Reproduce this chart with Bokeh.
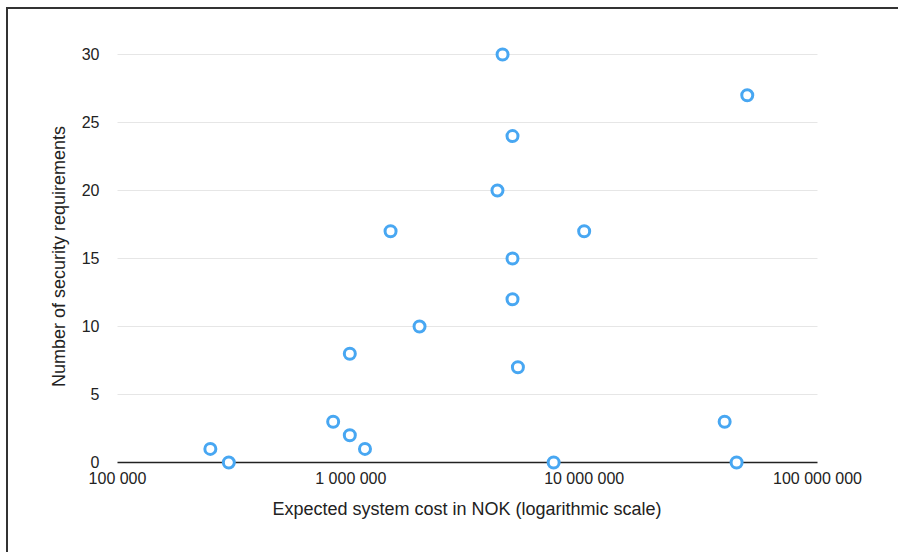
from bokeh.plotting import figure
from bokeh.models import Range1d, FixedTicker, LogAxis, LinearAxis
from bokeh.embed import file_html
from bokeh.resources import INLINE

# Data
cost_nok = [4.47e6, 5.0e7, 4.93e6, 4.25e6, 1.48e6, 1.0e7, 4.93e6, 4.93e6, 1.97e6,
            9.9e5, 5.2e6, 8.4e5, 9.9e5, 1.15e6, 2.5e5, 3.0e5, 7.4e6, 4.0e7, 4.5e7]
security_reqs = [30, 27, 24, 20, 17, 17, 15, 12, 10,
                 8, 7, 3, 2, 1, 1, 0, 0, 3, 0]

x_ticks = [100000, 1000000, 10000000, 100000000]
x_tick_labels = ["100 000", "1 000 000", "10 000 000", "100 000 000"]
y_ticks = [0, 5, 10, 15, 20, 25, 30]

x_title = "Expected system cost in NOK (logarithmic scale)"
y_title = "Number of security requirements"

FONT = "Liberation Sans"
TXT = "#222222"

p = figure(width=892, height=545, x_axis_type="log",
           x_axis_location=None, y_axis_location=None,
           x_range=Range1d(10 ** 4.79, 10 ** 8.2057), y_range=Range1d(-2.206, 32.5),
           output_backend="svg", toolbar_location=None,
           min_border_left=60, min_border_right=35,
           min_border_top=11, min_border_bottom=62)
p.margin = (7, 0, 0, 6)
p.styles = {"border-top": "2px solid #333", "border-left": "2px solid #333"}
p.outline_line_color = None
p.background_fill_color = "white"
p.border_fill_color = "white"
p.xgrid.visible = False
p.ygrid.visible = False


def style_ticks(ax):
    ax.major_tick_line_color = None
    ax.minor_tick_line_color = None
    ax.major_tick_out = 0
    ax.major_tick_in = 0
    ax.minor_tick_out = 0
    ax.minor_tick_in = 0
    ax.major_label_text_font = FONT
    ax.major_label_text_font_size = "16px"
    ax.major_label_text_color = TXT
    ax.axis_label_text_font = FONT
    ax.axis_label_text_font_size = "18px"
    ax.axis_label_text_font_style = "normal"
    ax.axis_label_text_color = TXT


# tick-label axes fixed at x = 100 000 and y = 0
xa = LogAxis(fixed_location=0, ticker=FixedTicker(ticks=x_ticks),
             major_label_overrides={t: l for t, l in zip(x_ticks, x_tick_labels)})
style_ticks(xa)
xa.axis_line_color = None
xa.major_label_standoff = 8
p.add_layout(xa, "below")

ya = LinearAxis(fixed_location=x_ticks[0], ticker=FixedTicker(ticks=y_ticks))
style_ticks(ya)
ya.axis_line_color = None
ya.major_label_standoff = 18
p.add_layout(ya, "left")

# title axes
xt = LogAxis(ticker=FixedTicker(ticks=[]), axis_label=x_title)
style_ticks(xt)
xt.axis_line_color = None
xt.major_label_standoff = 0
xt.axis_label_standoff = 6
p.add_layout(xt, "below")

yt = LinearAxis(ticker=FixedTicker(ticks=[]), axis_label=y_title)
style_ticks(yt)
yt.axis_line_color = None
yt.major_label_standoff = 0
yt.axis_label_standoff = 0
p.add_layout(yt, "left")

# horizontal grid lines between 100 000 and 100 000 000
grid_y = y_ticks[1:]
p.segment(x0=[x_ticks[0]] * len(grid_y), y0=grid_y,
          x1=[x_ticks[-1]] * len(grid_y), y1=grid_y,
          line_color="#e6e6e6", line_width=1)
# x axis line at y = 0
p.segment(x0=[x_ticks[0]], y0=[0], x1=[x_ticks[-1]], y1=[0],
          line_color="#222222", line_width=1.6)

p.scatter(cost_nok, security_reqs, size=11, marker="circle",
          fill_color="white", line_color="#48a7f2", line_width=3)

open("out.html", "w").write(file_html(p, INLINE))
